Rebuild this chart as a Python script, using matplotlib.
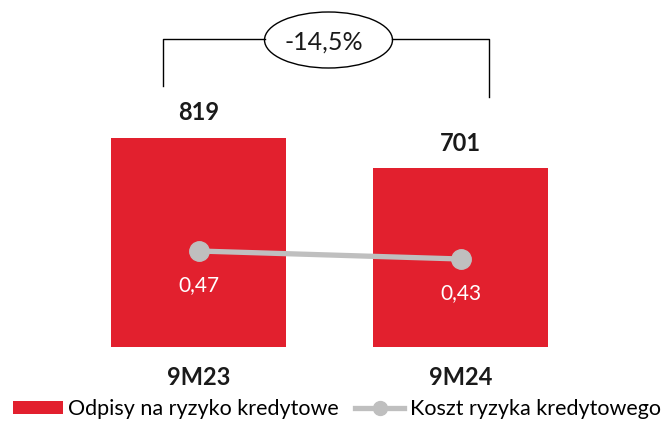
import matplotlib
matplotlib.use("Agg")
import matplotlib.pyplot as plt
from matplotlib.patches import Ellipse, Patch
from matplotlib.lines import Line2D

categories = ["9M23", "9M24"]
provisions = [819, 701]
cost_of_risk = [0.47, 0.43]
provision_labels = ["819", "701"]
cor_labels = ["0,47", "0,43"]
change_label = "-14,5%"
legend_labels = ["Odpisy na ryzyko kredytowe", "Koszt ryzyka kredytowego"]

RED = "#E2202E"
GREY = "#BFBFBF"
W, H = 664, 421
DPI = 100

fig = plt.figure(figsize=(W / DPI, H / DPI), dpi=DPI)
# axes: bottom at pixel row 347 (baseline), spans full width
ax = fig.add_axes([0, (H - 347) / H, 1, 347 / H])
x = list(range(len(categories)))
ax.bar(x, provisions, width=0.668, color=RED, zorder=1)
ax.set_xlim(-198.5 / 262, (W - 198.5) / 262)
ax.set_ylim(0, 347 / (209 / 819))
ax.axis("off")

for xi, v, lab in zip(x, provisions, provision_labels):
    ax.annotate(lab, (xi, v), xytext=(0, 18), textcoords="offset points",
                ha="center", va="center", fontsize=17, fontweight="bold",
                family="Lato", color="#1a1a1a")
for xi, lab in zip(x, categories):
    ax.annotate(lab, (xi, 0), xytext=(0, -22), textcoords="offset points",
                ha="center", va="center", fontsize=17, fontweight="bold",
                family="Lato", color="#1a1a1a")

ax2 = ax.twinx()
ax2.set_ylim(-0.01, 1.725)
ax2.axis("off")
ax2.plot(x, cost_of_risk, color=GREY, lw=3.8, marker="o", markersize=14,
         solid_capstyle="butt", zorder=3)
for xi, v, lab in zip(x, cost_of_risk, cor_labels):
    ax2.annotate(lab, (xi, v), xytext=(0, -24.5), textcoords="offset points",
                 ha="center", va="center", fontsize=15, color="white",
                 family="Lato")

# bracket with ellipse
def fx(px):
    return px / W

def fy(py):
    return 1 - py / H

lw = 1.0
fig.add_artist(Line2D([fx(163), fx(163), fx(265)], [fy(86), fy(39), fy(39)],
                      color="black", lw=lw))
fig.add_artist(Line2D([fx(392), fx(489), fx(489)], [fy(39), fy(39), fy(97)],
                      color="black", lw=lw))
fig.add_artist(Ellipse((fx(328.5), fy(40)), 128 / W, 56 / H,
                       transform=fig.transFigure, facecolor="white",
                       edgecolor="black", lw=lw))
fig.text(fx(324), fy(42), change_label, ha="center", va="center",
         fontsize=18, family="Lato", color="#1a1a1a")

handles = [Patch(facecolor=RED, edgecolor="none"),
           Line2D([], [], color=GREY, lw=3.8, marker="o", markersize=10)]
fig.legend(handles, legend_labels, loc="center", bbox_to_anchor=(fx(337), fy(409)),
           ncol=2, frameon=False, prop={"family": "Lato", "size": 15.5},
           handlelength=2.3, handleheight=0.6, handletextpad=0.25,
           columnspacing=0.75, borderpad=0, borderaxespad=0)

fig.savefig("out.png", dpi=DPI)
